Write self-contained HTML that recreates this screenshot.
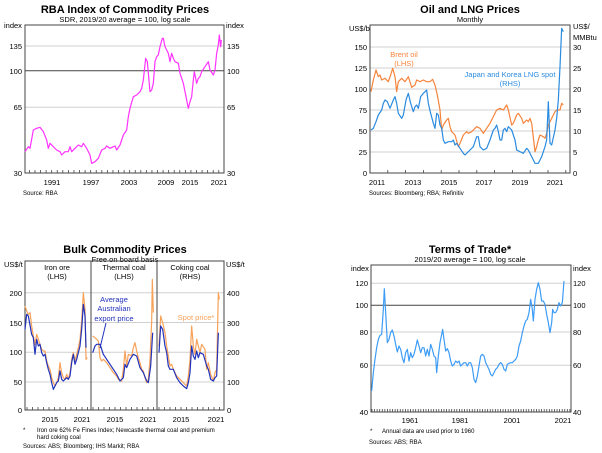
<!DOCTYPE html>
<html><head><meta charset="utf-8"><style>
html,body{margin:0;padding:0;background:#fff}
svg{display:block;font-family:"Liberation Sans",Arial,sans-serif}
.t{font-size:11px;font-weight:bold;text-anchor:middle}
.s{font-size:7.5px;text-anchor:middle}
.l{font-size:7.5px}
.f{font-size:6px}
.g{stroke:#d0d0d0;stroke-width:1}
.ln{fill:none;stroke-width:1.2;vector-effect:non-scaling-stroke;stroke-linejoin:round}
</style></head><body>
<svg id="sv" width="602" height="453" viewBox="0 0 602 453" xmlns="http://www.w3.org/2000/svg">
<!-- Panel 1 -->
<text class="t" x="125" y="13">RBA Index of Commodity Prices</text>
<text class="s" x="125" y="22">SDR, 2019/20 average = 100, log scale</text>
<text class="l" x="4" y="28">index</text><text class="l" x="226" y="28">index</text>
<line class="g" x1="25" y1="46" x2="224" y2="46"/><line class="g" x1="25" y1="107.3" x2="224" y2="107.3"/>
<line x1="25" y1="70.7" x2="224" y2="70.7" stroke="#444" stroke-width="1"/>
<rect x="25" y="25" width="199" height="148" fill="none" stroke="#444"/>
<g class="l" text-anchor="end"><text x="22" y="49">135</text><text x="22" y="74">100</text><text x="22" y="110">65</text><text x="22" y="176">30</text></g>
<g class="l"><text x="227" y="49">135</text><text x="227" y="74">100</text><text x="227" y="110">65</text><text x="227" y="176">30</text></g>
<g class="l" text-anchor="middle"><text x="52" y="185">1991</text><text x="91" y="185">1997</text><text x="129" y="185">2003</text><text x="166" y="185">2009</text><text x="190" y="185">2015</text><text x="219" y="185">2021</text></g>
<text class="f" x="23" y="195">Source:   RBA</text>
<g transform="scale(0.33333)"><polyline class="ln" stroke="#ff33ff" points="75,455 85,440 90,445 100,390 110,385 120,382 130,395 140,420 145,445 150,430 160,440 170,450 180,455 185,465 195,455 205,455 210,440 215,455 225,445 235,435 245,440 250,430 260,445 270,465 275,490 285,485 295,475 305,450 315,445 320,438 330,445 340,440 345,438 350,450 360,435 370,405 380,390 385,350 390,325 400,290 410,285 420,275 425,265 430,240 437,175 442,185 450,275 455,270 460,250 465,185 470,170 475,165 480,140 487,115 490,115 495,140 500,150 505,160 510,185 515,160 520,175 525,185 535,190 540,220 550,250 555,275 565,325 570,305 575,290 580,240 583,215 590,250 595,235 600,230 605,215 615,200 625,185 630,210 640,225 645,210 650,160 655,135 658,105 662,140 664,120"/></g>

<!-- Panel 2 -->
<text class="t" x="470" y="13">Oil and LNG Prices</text>
<text class="s" x="470" y="22">Monthly</text>
<text class="l" x="349" y="31">US$/b</text>
<text class="l" x="573" y="29">US$/</text><text class="l" x="573" y="40">MMBtu</text>
<g id="p2g"></g>
<rect x="370" y="25" width="200" height="148" fill="none" stroke="#444"/>
<g class="l" text-anchor="end"><text x="367" y="50">150</text><text x="367" y="71">125</text><text x="367" y="92">100</text><text x="367" y="113">75</text><text x="367" y="134">50</text><text x="367" y="155">25</text><text x="367" y="176">0</text></g>
<g class="l"><text x="573" y="50">30</text><text x="573" y="71">25</text><text x="573" y="92">20</text><text x="573" y="113">15</text><text x="573" y="134">10</text><text x="573" y="155">5</text><text x="573" y="176">0</text></g>
<g class="l" text-anchor="middle"><text x="377" y="185">2011</text><text x="413" y="185">2013</text><text x="449" y="185">2015</text><text x="484" y="185">2017</text><text x="520" y="185">2019</text><text x="555" y="185">2021</text></g>
<text class="f" x="369" y="195">Sources: Bloomberg; RBA; Refinitiv</text>
<g class="l" text-anchor="middle" fill="#f5843c"><text x="404" y="57">Brent oil</text><text x="404" y="66">(LHS)</text></g>
<g class="l" text-anchor="middle" fill="#2a8be0"><text x="510" y="77">Japan and Korea LNG spot</text><text x="510" y="86">(RHS)</text></g>
<g transform="translate(300,0) scale(0.33333)">
<polyline class="ln" stroke="#f5843c" points="213,275 220,240 228,210 235,230 240,225 245,240 255,235 265,245 272,225 278,205 285,230 290,275 295,245 305,235 315,245 325,230 335,262 345,255 350,240 360,245 370,240 380,245 390,245 398,238 405,255 412,285 420,330 425,390 430,375 440,360 445,355 450,380 455,395 465,405 475,440 480,430 490,405 500,395 505,400 515,395 525,385 530,380 540,385 550,400 560,385 570,370 580,350 590,330 600,325 610,330 620,315 625,330 635,375 640,370 650,345 655,340 665,355 670,370 680,360 685,365 690,355 695,370 705,455 710,440 715,420 720,405 730,410 735,415 740,400 745,375 755,355 765,335 770,330 780,330 785,310 790,315"/>
<polyline class="ln" stroke="#2a8be0" points="213,390 220,385 228,365 235,345 245,330 250,310 255,300 262,305 270,325 280,300 285,290 290,310 295,340 305,355 310,345 318,300 325,280 332,310 340,335 345,320 350,315 355,325 362,290 370,280 375,275 380,270 385,310 392,340 400,370 405,385 410,340 415,345 420,375 425,385 430,420 435,430 445,425 455,425 460,420 465,435 470,430 480,445 490,460 495,465 505,455 510,450 520,440 530,410 535,410 540,440 550,450 560,445 570,420 580,390 585,385 590,375 595,395 600,420 605,420 610,390 615,385 620,395 625,380 635,390 645,420 650,450 660,455 670,460 680,445 685,450 690,460 700,480 705,490 715,490 725,470 735,440 740,420 745,305 750,430 755,435 765,390 770,355 775,300 780,200 785,85 790,95"/>
</g>

<!-- Panel 3 -->
<text class="t" x="125" y="253">Bulk Commodity Prices</text>
<text class="s" x="125" y="262">Free on board basis</text>
<text class="l" x="4" y="267">US$/t</text><text class="l" x="226" y="267">US$/t</text>
<g class="g"><line x1="25" y1="292.7" x2="224" y2="292.7"/><line x1="25" y1="322.5" x2="224" y2="322.5"/><line x1="25" y1="352.3" x2="224" y2="352.3"/><line x1="25" y1="382" x2="224" y2="382"/></g>
<rect x="25" y="261" width="199" height="149" fill="none" stroke="#444"/>
<line x1="91" y1="261" x2="91" y2="410" stroke="#444"/><line x1="157" y1="261" x2="157" y2="410" stroke="#444"/>
<g class="l" text-anchor="end"><text x="22" y="296">200</text><text x="22" y="326">150</text><text x="22" y="355">100</text><text x="22" y="385">50</text><text x="22" y="413">0</text></g>
<g class="l"><text x="227" y="296">400</text><text x="227" y="326">300</text><text x="227" y="355">200</text><text x="227" y="385">100</text><text x="227" y="413">0</text></g>
<g class="l" text-anchor="middle"><text x="57" y="270">Iron ore</text><text x="57" y="279">(LHS)</text><text x="124" y="270">Thermal coal</text><text x="124" y="279">(LHS)</text><text x="190" y="270">Coking coal</text><text x="190" y="279">(RHS)</text>
<text x="50" y="422">2015</text><text x="82" y="422">2021</text><text x="115" y="422">2015</text><text x="148" y="422">2021</text><text x="181" y="422">2015</text><text x="216" y="422">2021</text></g>
<g class="l" text-anchor="middle" fill="#2233bb"><text x="114" y="302">Average</text><text x="114" y="311">Australian</text><text x="114" y="321">export price</text></g>
<line x1="106" y1="323" x2="100" y2="348" stroke="#2233bb"/>
<text class="l" x="196" y="320" text-anchor="middle" fill="#f7a25a">Spot price*</text>
<text class="f" x="23" y="432">*</text>
<text class="f" x="37" y="432">Iron ore 62% Fe Fines Index; Newcastle thermal coal and premium</text>
<text class="f" x="37" y="439">hard coking coal</text>
<text class="f" x="23" y="448">Sources: ABS; Bloomberg; IHS Markit; RBA</text>
<g transform="translate(0,226) scale(0.33333)">
<g stroke="#f7a25a">
<polyline class="ln" points="75,240 80,255 85,265 90,260 95,300 100,330 105,355 110,325 115,340 120,355 125,370 130,375 135,375 140,405 145,420 150,430 155,455 160,470 165,480 170,470 175,455 180,410 185,440 190,455 195,460 200,445 205,460 210,440 215,400 220,380 225,405 230,385 235,365 240,340 245,285 250,200 255,250 258,400 262,395"/>
<polyline class="ln" points="278,330 285,335 290,340 295,345 300,395 305,405 310,400 320,410 330,425 340,440 350,450 355,460 365,465 370,430 375,375 380,420 385,385 395,390 400,365 405,350 410,375 415,395 420,410 425,430 430,435 435,455 440,470 445,460 450,400 455,285 457,160 460,260"/>
<polyline class="ln" points="477,360 482,270 488,290 495,320 500,360 505,390 510,420 515,415 520,430 530,450 540,460 550,470 560,480 565,450 570,400 575,300 580,360 585,385 590,340 595,360 600,380 605,355 615,370 620,430 625,410 632,445 640,465 645,440 650,430 655,200 658,220"/>
</g>
<g stroke="#2233bb">
<polyline class="ln" points="75,310 80,265 85,270 95,325 100,335 105,385 110,340 115,360 120,355 125,380 130,390 135,385 140,410 145,430 150,445 155,470 160,490 165,480 170,470 175,465 180,435 185,460 190,465 200,455 205,460 210,450 215,410 220,385 225,415 230,400 240,360 245,310 250,235 255,270 258,365"/>
<polyline class="ln" points="278,380 285,360 290,355 300,355 305,370 310,385 320,400 330,415 340,430 350,445 360,465 370,455 375,415 380,425 390,400 400,385 410,390 420,425 430,440 440,465 445,470 452,420 458,320"/>
<polyline class="ln" points="477,380 482,300 488,310 495,360 500,380 505,420 510,430 520,430 530,455 540,470 550,480 560,488 565,470 570,440 575,360 580,390 585,400 590,375 595,395 600,380 610,385 620,420 625,430 632,460 640,465 645,455 650,450 655,320"/>
</g></g>

<!-- Panel 4 -->
<text class="t" x="470" y="253">Terms of Trade*</text>
<text class="s" x="470" y="262">2019/20 average = 100, log scale</text>
<text class="l" x="351" y="271">index</text><text class="l" x="573" y="271">index</text>
<g class="g"><line x1="371" y1="283.3" x2="571" y2="283.3"/><line x1="371" y1="332" x2="571" y2="332"/><line x1="371" y1="365.3" x2="571" y2="365.3"/></g>
<line x1="371" y1="305.3" x2="571" y2="305.3" stroke="#444"/>
<rect x="371" y="265" width="200" height="147" fill="none" stroke="#444"/>
<g class="l" text-anchor="end"><text x="368" y="286">120</text><text x="368" y="308">100</text><text x="368" y="335">80</text><text x="368" y="368">60</text><text x="368" y="415">40</text></g>
<g class="l"><text x="573" y="286">120</text><text x="573" y="308">100</text><text x="573" y="335">80</text><text x="573" y="368">60</text><text x="573" y="415">40</text></g>
<g class="l" text-anchor="middle"><text x="410" y="423">1961</text><text x="460" y="423">1981</text><text x="512" y="423">2001</text><text x="563" y="423">2021</text></g>
<text class="f" x="370" y="433">*</text><text class="f" x="382" y="433">Annual data are used prior to 1960</text>
<text class="f" x="369" y="444">Sources: ABS; RBA</text>
<g transform="translate(300,226) scale(0.33333)">
<polyline class="ln" stroke="#3d9cf5" points="215,495 220,440 225,400 230,365 235,340 240,328 245,325 250,250 253,188 257,260 262,350 267,340 272,320 277,312 282,330 287,355 292,378 297,360 302,370 307,395 312,410 317,380 322,370 327,405 332,380 337,395 342,385 347,365 352,342 357,360 362,380 367,365 372,365 377,390 382,370 387,390 392,355 397,370 402,390 407,395 410,440 415,390 420,350 425,325 428,310 432,340 437,375 442,368 447,380 452,405 457,420 462,415 467,405 472,410 477,405 482,420 487,415 492,410 497,410 502,420 507,410 512,410 517,425 522,460 527,470 532,450 537,420 542,390 547,385 552,390 557,410 562,420 567,430 572,445 577,450 582,440 587,430 592,425 597,415 602,410 607,415 612,430 617,435 622,415 627,412 632,410 637,410 642,405 647,400 652,390 657,360 662,345 667,320 672,300 677,285 682,280 687,260 692,220 697,250 700,285 705,220 710,190 715,170 720,190 725,225 730,225 735,235 740,265 745,290 750,320 755,290 758,250 762,260 767,260 772,250 777,230 782,240 787,230 792,165"/>
</g>
<g id="ticks" stroke="#444" stroke-width="0.8"></g>
</svg>
<script>
var ns="http://www.w3.org/2000/svg",tk=document.getElementById('ticks'),p2=document.getElementById('p2g');
function L(g,x1,y1,x2,y2,c){var l=document.createElementNS(ns,'line');l.setAttribute('x1',x1);l.setAttribute('y1',y1);l.setAttribute('x2',x2);l.setAttribute('y2',y2);if(c){l.setAttribute('stroke',c);}g.appendChild(l);}
for(var x=25+4.4;x<224;x+=5.57)L(tk,x,173,x,170);
for(var i=1;i<=6;i++){L(p2,370,173-21*i,570,173-21*i,'#d0d0d0');}
for(var x=370;x<570;x+=17.8)L(tk,x,173,x,170);
[[25,91],[91,157],[157,224]].forEach(function(r){for(var x=r[0]+2;x<r[1];x+=5.5)L(tk,x,410,x,407);});
for(var x=372;x<571;x+=2.57)L(tk,x,412,x,409);
</script>
</body></html>
